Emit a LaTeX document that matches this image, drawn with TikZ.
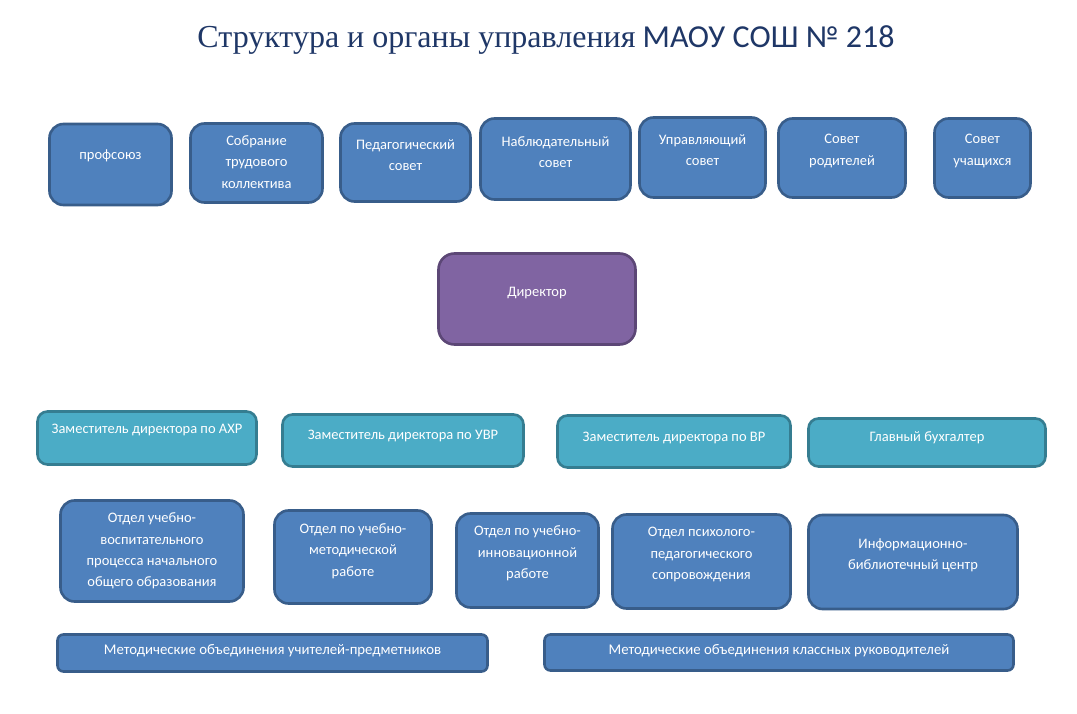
\documentclass[tikz,border=0pt]{standalone}
\usepackage{fontspec}
\setmainfont{Carlito}
\newfontfamily\titleserif{Liberation Serif}
\usetikzlibrary{positioning}

\definecolor{blfill}{HTML}{4F81BD}
\definecolor{blline}{HTML}{385D8A}
\definecolor{tlfill}{HTML}{4BACC6}
\definecolor{tlline}{HTML}{357D91}
\definecolor{vifill}{HTML}{8064A2}
\definecolor{viline}{HTML}{5C4776}
\definecolor{titlecol}{HTML}{1F3767}

\tikzset{
    unit/.style={line width=2.6pt, inner sep=0pt},
    blbox/.style={unit, draw=blline, fill=blfill, rounded corners=14pt},
    tlbox/.style={unit, draw=tlline, fill=tlfill, rounded corners=10pt},
    vibox/.style={unit, draw=viline, fill=vifill, rounded corners=16pt},
    flatbox/.style={unit, draw=blline, fill=blfill, rounded corners=6pt},
    lbl/.style={text=white, align=center, inner sep=0pt,
        font=\fontsize{14.5}{21.3}\selectfont},
}

\begin{document}
\begin{tikzpicture}[x=1pt,y=-1pt]
    \useasboundingbox[fill=white] (0,0) rectangle (1077,714);

    \node[text=titlecol, font=\fontsize{32}{36}\selectfont] (title) at (546,40)
        {{\titleserif Структура и органы управления} МАОУ СОШ № 218};

    % councils
    \node[blbox, minimum width=122, minimum height=81] (profsoyuz) at (110.5,164.5) {};
    \node[lbl] at ([yshift=9]profsoyuz.center) {профсоюз};
    \node[blbox, minimum width=132, minimum height=79] (sobranie) at (256.5,163) {};
    \node[lbl] at ([yshift=1]sobranie.center) {Собрание\\трудового\\коллектива};
    \node[blbox, minimum width=130, minimum height=78] (pedsovet) at (405.5,162.5) {};
    \node[lbl] at ([yshift=7]pedsovet.center) {Педагогический\\совет};
    \node[blbox, minimum width=150, minimum height=81] (nablsovet) at (555.5,159) {};
    \node[lbl] at ([yshift=7]nablsovet.center) {Наблюдательный\\совет};
    \node[blbox, minimum width=126, minimum height=80] (upravsovet) at (702.5,157.5) {};
    \node[lbl] at ([yshift=7]upravsovet.center) {Управляющий\\совет};
    \node[blbox, minimum width=127, minimum height=79] (sovroditeli) at (842,158) {};
    \node[lbl] at ([yshift=7]sovroditeli.center) {Совет\\родителей};
    \node[blbox, minimum width=96, minimum height=79] (sovuchashch) at (982.5,158) {};
    \node[lbl] at ([yshift=7]sovuchashch.center) {Совет\\учащихся};

    % head
    \node[vibox, minimum width=197, minimum height=91] (direktor) at (537,299) {};
    \node[lbl] at ([yshift=6]direktor.center) {Директор};

    % deputies
    \node[tlbox, minimum width=219, minimum height=53] (zamahr) at (147,438) {};
    \node[lbl] at ([yshift=8]zamahr.center) {Заместитель директора по АХР};
    \node[tlbox, minimum width=241, minimum height=52] (zamuvr) at (403,440.5) {};
    \node[lbl] at ([yshift=5]zamuvr.center) {Заместитель директора по УВР};
    \node[tlbox, minimum width=233, minimum height=52] (zamvr) at (674,441.5) {};
    \node[lbl] at ([yshift=4]zamvr.center) {Заместитель директора по ВР};
    \node[tlbox, minimum width=237, minimum height=48] (buhgalter) at (927,442.5) {};
    \node[lbl] at ([yshift=5]buhgalter.center) {Главный бухгалтер};

    % departments
    \node[blbox, minimum width=183, minimum height=101] (otdnach) at (152,551) {};
    \node[lbl] at ([yshift=0]otdnach.center)
        {Отдел учебно-\\воспитательного\\процесса начального\\общего образования};
    \node[blbox, minimum width=157, minimum height=93] (otdmetod) at (353,557) {};
    \node[lbl] at ([yshift=6]otdmetod.center) {Отдел по учебно-\\методической\\работе};
    \node[blbox, minimum width=142, minimum height=94] (otdinnov) at (527.5,560.5) {};
    \node[lbl] at ([yshift=7]otdinnov.center) {Отдел по учебно-\\инновационной\\работе};
    \node[blbox, minimum width=178, minimum height=94] (otdpsih) at (701.5,561.5) {};
    \node[lbl] at ([yshift=7]otdpsih.center) {Отдел психолого-\\педагогического\\сопровождения};
    \node[blbox, minimum width=209, minimum height=94] (ibc) at (913,562) {};
    \node[lbl] at ([yshift=7]ibc.center) {Информационно-\\библиотечный центр};

    % method unions
    \node[flatbox, minimum width=430, minimum height=37] (mopredm) at (272.5,653) {};
    \node[lbl, font=\fontsize{14.8}{16}\selectfont] at ([yshift=2]mopredm.center)
        {Методические объединения учителей-предметников};
    \node[flatbox, minimum width=469, minimum height=36] (moklass) at (779,652.5) {};
    \node[lbl, font=\fontsize{14.8}{16}\selectfont] at ([yshift=2]moklass.center)
        {Методические объединения классных руководителей};
\end{tikzpicture}
\end{document}
